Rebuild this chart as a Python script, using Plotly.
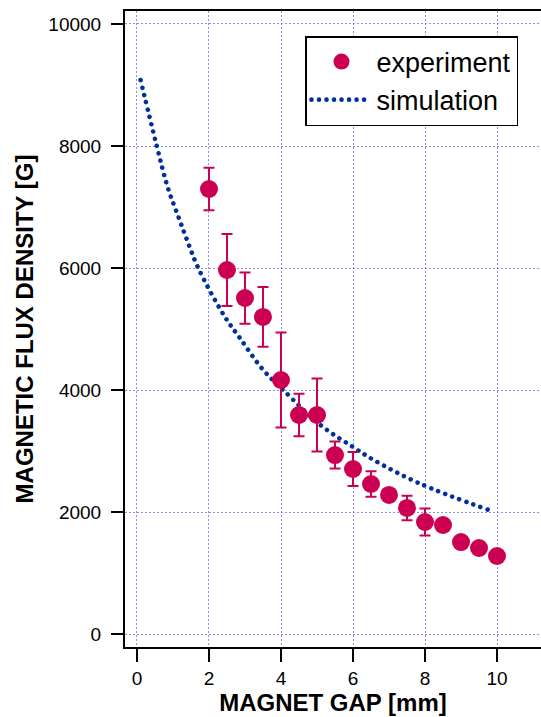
import plotly.graph_objects as go

# Experimental data
exp_gap = [2.0, 2.5, 3.0, 3.5, 4.0, 4.5, 5.0, 5.5, 6.0, 6.5, 7.0, 7.5, 8.0, 8.5, 9.0, 9.5, 10.0]
exp_flux = [7295, 5967, 5508, 5197, 4164, 3590, 3590, 2934, 2705, 2459, 2279, 2066, 1836, 1787, 1508, 1410, 1279]
exp_err = [350, 590, 420, 490, 780, 350, 600, 220, 280, 210, 60, 200, 220, 80, 60, 80, 60]

# Simulation curve
sim_gap = [0.10, 0.55, 0.85, 1.15, 1.39, 1.70, 2.43, 2.86, 3.49, 4.06, 5.13, 5.99, 6.61, 7.88, 9.79]
sim_flux = [9080, 8000, 7330, 6840, 6460, 6000, 5210, 4850, 4340, 4000, 3410, 3070, 2840, 2460, 2030]

x_ticks = [0, 2, 4, 6, 8, 10]
y_ticks = [0, 2000, 4000, 6000, 8000, 10000]

RED = "#CC0052"
BLUE = "#00309E"
GRID = "#8C8CFF"

fig = go.Figure()
fig.add_trace(go.Scatter(
    x=sim_gap, y=sim_flux, mode="lines", name="simulation",
    line=dict(color=BLUE, width=4.6, dash="0.01px,7.5px", shape="spline"),
))
fig.add_trace(go.Scatter(
    x=exp_gap, y=exp_flux, mode="markers", name="experiment",
    marker=dict(color=RED, size=18),
    error_y=dict(type="data", array=exp_err, symmetric=True, color=RED,
                 thickness=2, width=5.5),
))

fig.update_layout(
    width=541, height=717,
    margin=dict(l=125, r=0, t=11, b=70),
    plot_bgcolor="white", paper_bgcolor="white",
    font=dict(family="Liberation Sans, Arial, sans-serif", color="black", size=19),
    showlegend=True,
    legend=dict(
        x=(305 - 125) / 416, y=1 - (36 - 11) / 636, xanchor="left", yanchor="top",
        bordercolor="black", borderwidth=1.5, bgcolor="white",
        font=dict(size=27), traceorder="reversed", itemwidth=60,
        tracegroupgap=0,
    ),
    xaxis=dict(
        range=[-0.333, 11.222], tickvals=x_ticks, ticktext=[str(v) for v in x_ticks],
        showgrid=True, gridcolor=GRID, griddash="2px,2px", gridwidth=1,
        showline=True, linecolor="black", linewidth=2, mirror=True,
        ticks="outside", ticklen=13, tickwidth=2, tickcolor="black",
        zeroline=False, automargin=False,
        title=dict(text="<b>MAGNET GAP [mm]</b>", font=dict(size=24), standoff=0),
    ),
    yaxis=dict(
        range=[-213, 10213], tickvals=y_ticks, ticktext=[str(v) for v in y_ticks],
        showgrid=True, gridcolor=GRID, griddash="2px,2px", gridwidth=1,
        showline=True, linecolor="black", linewidth=2, mirror=False,
        ticks="outside", ticklen=12, tickwidth=2, tickcolor="black",
        zeroline=False, ticklabelstandoff=6, automargin=False,
        title=dict(text="<b>MAGNETIC FLUX DENSITY [G]</b>", font=dict(size=24), standoff=8),
    ),
)

post_js = (
    "document.body.style.margin='0';"
    "document.documentElement.style.overflow='hidden';"
    "document.body.style.overflow='hidden';"
    "document.querySelectorAll('.scatterlayer .js-line, .legendlines path')"
    ".forEach(function(p){p.style.strokeLinecap='round';});"
)

fig.write_html("out.html", post_script=post_js, config={"displayModeBar": False})
